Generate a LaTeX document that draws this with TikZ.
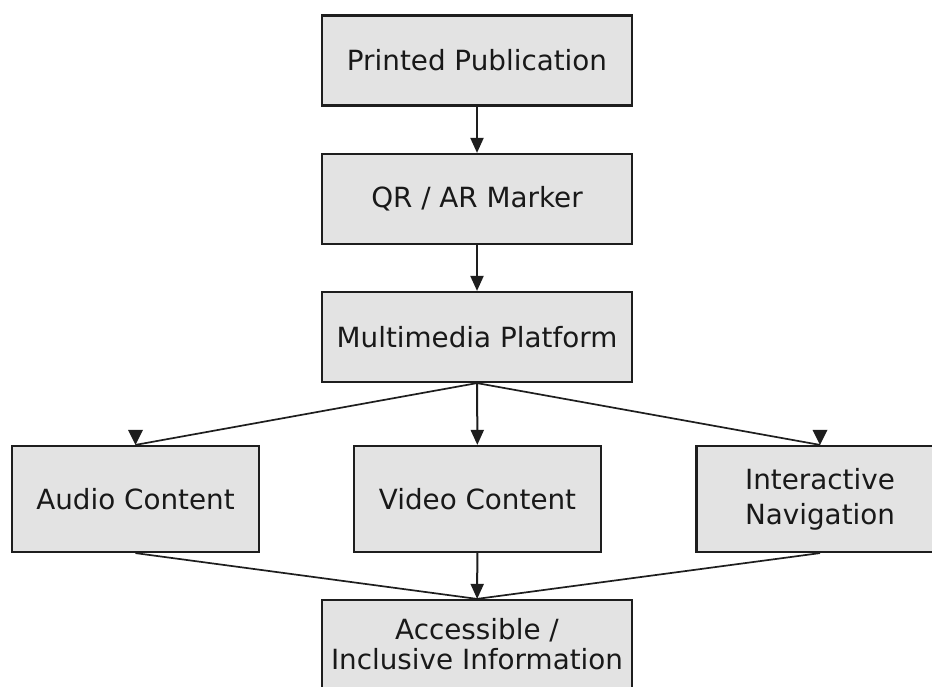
\documentclass[tikz,border=0pt]{standalone}
\usepackage{fontspec}
\setmainfont{DejaVu Sans}
\usetikzlibrary{arrows.meta}
\definecolor{boxfill}{HTML}{E3E3E3}
\definecolor{boxline}{HTML}{1E1E1E}
\begin{document}
\begin{tikzpicture}[x=1pt,y=-1pt,
  box/.style={draw=boxline,line width=2.2pt,fill=boxfill,inner sep=0pt,
    font=\fontsize{27.8}{35}\selectfont,align=center,text=black!90},
  wide/.style={box,minimum width=310pt,minimum height=90pt},
  mid/.style={box,minimum width=247pt,minimum height=106pt},
  arr/.style={draw=boxline,line width=2pt,-{Triangle[length=15pt,width=13pt]}},
  ln/.style={draw=boxline,line width=1.7pt},
  tip/.style={fill=boxline}]
\useasboundingbox (0,0) rectangle (932,687);
\fill[white] (0,0) rectangle (932,687);
\node[wide] (pp) at (477,60.5) {Printed Publication};
\node[wide] (qr) at (477,199) {QR / AR Marker};
\node[wide] (mm) at (477,337) {Multimedia Platform};
\node[mid] (au) at (135.5,499) {Audio Content};
\node[mid] (vi) at (477.5,499) {Video Content};
\node[mid] (in) at (820,499) {Interactive\\Navigation};
\node[wide,minimum height=88pt,font=\fontsize{27.8}{30}\selectfont] (ac) at (477,644) {Accessible /\\Inclusive Information};
\draw[arr] (pp) -- (qr);
\draw[arr] (qr) -- (mm);
\draw[arr] (mm) -- (vi);
\draw[arr] (vi) -- (ac);
\draw[ln] (mm.south) -- (au.north);
\draw[ln] (mm.south) -- (in.north);
\fill[tip] (au.north) -- ++(-7.5,-15) -- ++(15,0) -- cycle;
\fill[tip] (in.north) -- ++(-7.5,-15) -- ++(15,0) -- cycle;
\draw[ln] (au.south) -- (ac.north);
\draw[ln] (in.south) -- (ac.north);
\end{tikzpicture}
\end{document}
